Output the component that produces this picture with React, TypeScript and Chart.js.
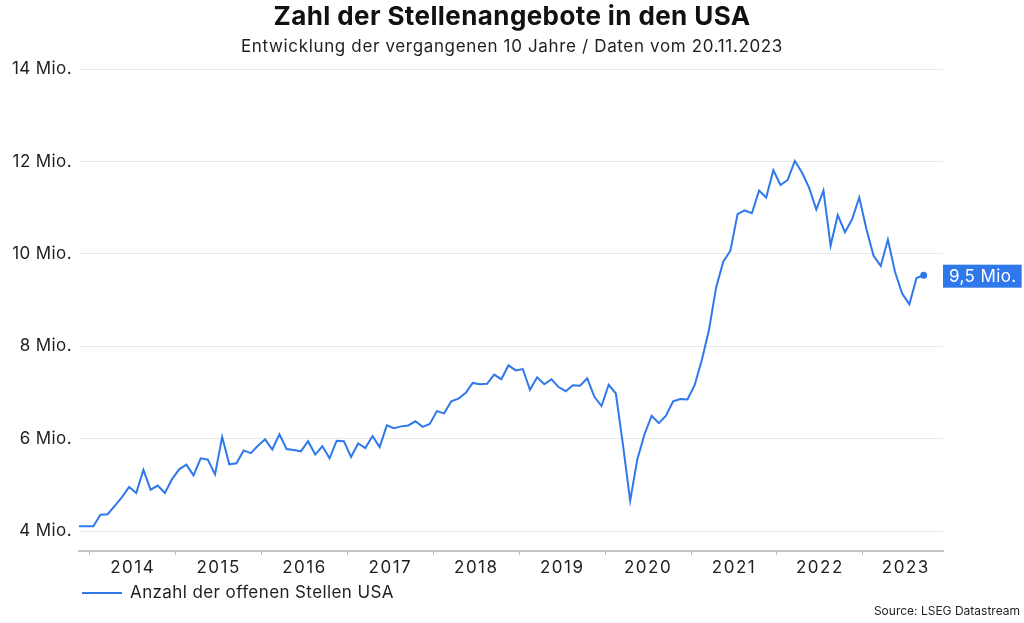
import React, { useEffect, useRef } from "react";
import { Chart, registerables } from "chart.js";

Chart.register(...registerables);

const TITLE = "Zahl der Stellenangebote in den USA";
const SUBTITLE = "Entwicklung der vergangenen 10 Jahre / Daten vom 20.11.2023";
const SERIES_LABEL = "Anzahl der offenen Stellen USA";
const SOURCE = "Source: LSEG Datastream";

// Monthly values (Mio.), Nov 2013 .. Sep 2023
const FIRST_YEAR = 2013;
const FIRST_MONTH = 11;
const openings = [
  4.11, 4.11, 4.11, 4.36, 4.37, 4.55, 4.74, 4.96, 4.83, 5.33,
  4.90, 4.99, 4.83, 5.13, 5.34, 5.44, 5.21, 5.58, 5.55, 5.23,
  6.04, 5.45, 5.47, 5.75, 5.69, 5.85, 5.99, 5.77, 6.10, 5.78,
  5.76, 5.73, 5.95, 5.66, 5.84, 5.58, 5.96, 5.95, 5.61, 5.90,
  5.80, 6.06, 5.82, 6.29, 6.23, 6.27, 6.29, 6.38, 6.26, 6.32,
  6.60, 6.55, 6.81, 6.87, 6.99, 7.21, 7.18, 7.19, 7.39, 7.29,
  7.59, 7.48, 7.51, 7.06, 7.33, 7.18, 7.29, 7.12, 7.03, 7.16,
  7.15, 7.31, 6.91, 6.71, 7.17, 6.98, 5.86, 4.66, 5.56, 6.10,
  6.50, 6.34, 6.50, 6.81, 6.86, 6.85, 7.16, 7.70, 8.35, 9.27,
  9.83, 10.07, 10.86, 10.94, 10.88, 11.37, 11.22, 11.81, 11.49, 11.60,
  12.01, 11.76, 11.43, 10.96, 11.37, 10.18, 10.84, 10.47, 10.75, 11.22,
  10.54, 9.96, 9.74, 10.31, 9.61, 9.14, 8.91, 9.48, 9.54,
];
const years = [2014, 2015, 2016, 2017, 2018, 2019, 2020, 2021, 2022, 2023];
const yTicks = [4, 6, 8, 10, 12, 14];

const BLUE = "#2f78ec";
const FONT = "Inter, 'Noto Sans', sans-serif";
const TEXT = "#1f1f1f";

// month index of Jan 1 of a given year (data points are dated mid-month)
const yearStart = (y: number) => (y - FIRST_YEAR) * 12 + (1 - FIRST_MONTH) - 0.5;
const boundaries = years.map(yearStart);
const centers = years.map((y) => yearStart(y) + 6);

const withSpacing = (scale: any, method: string, spacing: string) => {
  if (scale["_ls_" + method]) return;
  const orig = scale[method];
  scale[method] = function (...args: any[]) {
    const c = this.ctx;
    const prev = c.letterSpacing;
    c.letterSpacing = spacing;
    orig.apply(this, args);
    c.letterSpacing = prev;
  };
  scale["_ls_" + method] = true;
};

export default function App() {
  const ref = useRef<HTMLCanvasElement | null>(null);

  useEffect(() => {
    if (!ref.current) return;
    const points = openings.map((v, i) => ({ x: i, y: v }));
    const last = openings.length - 1;

    const overlay = {
      id: "overlay",
      beforeDraw(chart: any) {
        chart.ctx.letterSpacing = "0.4px";
      },
      afterDatasetsDraw(chart: any) {
        const { ctx, chartArea } = chart;
        const meta = chart.getDatasetMeta(0);
        const pt = meta.data[last];
        const txt =
          openings[last].toLocaleString("de-DE", { maximumFractionDigits: 1 }) + " Mio.";
        ctx.save();
        ctx.letterSpacing = "0.4px";
        ctx.font = `17px ${FONT}`;
        const w = ctx.measureText(txt).width;
        const bx = chartArea.right;
        const bh = 23;
        ctx.fillStyle = BLUE;
        ctx.fillRect(bx, pt.y - bh / 2 + 1, w + 11, bh);
        ctx.fillStyle = "#ffffff";
        ctx.textBaseline = "middle";
        ctx.textAlign = "left";
        ctx.fillText(txt, bx + 6, pt.y + 1.5);
        ctx.restore();
      },
      afterDraw(chart: any) {
        const { ctx, width, height } = chart;
        ctx.save();
        ctx.textBaseline = "middle";
        // title + subtitle
        ctx.fillStyle = "#111";
        ctx.textAlign = "center";
        ctx.letterSpacing = "0.4px";
        ctx.font = `bold 26px ${FONT}`;
        ctx.fillText(TITLE, width / 2, 17);
        ctx.fillStyle = TEXT;
        ctx.letterSpacing = "0.65px";
        ctx.font = `17px ${FONT}`;
        ctx.fillText(SUBTITLE, width / 2, 47);
        // legend
        ctx.strokeStyle = BLUE;
        ctx.lineWidth = 2;
        ctx.beginPath();
        ctx.moveTo(82, 593);
        ctx.lineTo(122, 593);
        ctx.stroke();
        ctx.letterSpacing = "0.4px";
        ctx.font = `17px ${FONT}`;
        ctx.textAlign = "left";
        ctx.fillText(SERIES_LABEL, 130, 593);
        // source
        ctx.letterSpacing = "0px";
        ctx.font = `12px ${FONT}`;
        ctx.textAlign = "right";
        ctx.fillText(SOURCE, width - 4, height - 12);
        ctx.restore();
      },
    };

    const chart = new Chart(ref.current, {
      type: "line",
      data: {
        datasets: [
          {
            label: SERIES_LABEL,
            data: points,
            borderColor: BLUE,
            backgroundColor: BLUE,
            borderWidth: 2,
            tension: 0,
            pointRadius: (c: any) => (c.dataIndex === last ? 2.5 : 0),
            pointHoverRadius: 0,
          },
        ],
      },
      options: {
        responsive: false,
        animation: false,
        devicePixelRatio: 1,
        layout: { padding: { left: 0, right: 81, top: 69, bottom: 42 } },
        plugins: {
          legend: { display: false },
          tooltip: { enabled: false },
          title: { display: false },
        },
        scales: {
          x: {
            type: "linear",
            min: 0,
            max: 120.7,
            afterBuildTicks: (axis: any) => {
              axis.ticks = [...boundaries, ...centers]
                .sort((a, b) => a - b)
                .map((v) => ({ value: v }));
            },
            afterFit: (s: any) => {
              s.height = 30;
            },
            afterUpdate: (s: any) => withSpacing(s, "drawLabels", "1.5px"),
            ticks: {
              autoSkip: false,
              maxRotation: 0,
              padding: 3,
              color: TEXT,
              font: { family: FONT, size: 17 },
              callback: (v: any) => {
                const i = centers.indexOf(v);
                return i >= 0 ? String(years[i]) : "";
              },
            },
            grid: {
              drawOnChartArea: false,
              drawTicks: true,
              tickLength: 4,
              color: (c: any) =>
                c.tick && boundaries.includes(c.tick.value) ? "#bdbdbd" : "rgba(0,0,0,0)",
            },
            border: { display: true, color: "#c4c4c4", width: 2 },
          },
          y: {
            type: "linear",
            min: 3.574,
            max: 14,
            afterBuildTicks: (axis: any) => {
              axis.ticks = yTicks.map((v) => ({ value: v }));
            },
            afterFit: (s: any) => {
              s.width = 79;
            },
            ticks: {
              padding: 7,
              color: TEXT,
              font: { family: FONT, size: 17 },
              callback: (v: any) => `${v} Mio.`,
            },
            grid: { color: "#e8e8e8", lineWidth: 1, drawTicks: false },
            border: { display: false },
          },
        },
      },
      plugins: [overlay],
    } as any);

    return () => chart.destroy();
  }, []);

  return (
    <div style={{ position: "absolute", left: 0, top: 0, width: 1024, height: 623, background: "#fff" }}>
      <canvas ref={ref} width={1024} height={623} style={{ display: "block" }} />
    </div>
  );
}
